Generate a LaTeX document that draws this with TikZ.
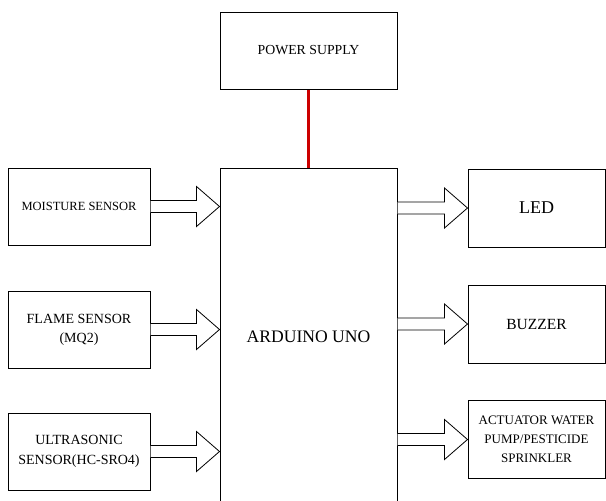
\documentclass[tikz,border=0pt]{standalone}
\usepackage{fontspec}
\setmainfont{Liberation Serif}
\usetikzlibrary{calc}

% hollow block arrow from #1 to tip #2
\newcommand{\fatarrow}[2]{%
  \draw[line width=0.8pt, fill=white] ($(#1)+(0,-6)$) -- ($(#2)+(-23,-6)$) -- ($(#2)+(-23,-20)$) -- (#2)
    -- ($(#2)+(-23,20)$) -- ($(#2)+(-23,6)$) -- ($(#1)+(0,6)$);}

\begin{document}
\begin{tikzpicture}[x=1pt, y=-1pt, block/.style={draw, line width=1pt, inner sep=0pt, align=center},
	inblock/.style={block, minimum width=142pt, minimum height=77pt},
	outblock/.style={block, minimum width=137pt, minimum height=78pt}]
		\clip (0,0) rectangle (606,501);
		\node[block, minimum width=177pt, minimum height=77pt, font=\fontsize{13.8}{17}\selectfont] at (308.5,50.5) (power){POWER SUPPLY};
		\node[block, minimum width=177pt, minimum height=338pt, font=\fontsize{17.6}{21}\selectfont] at (308.5,337) (ard){ARDUINO UNO};
		\node[inblock, font=\fontsize{12.5}{19}\selectfont] at (79,206.5) (moist){MOISTURE SENSOR};
		\node[inblock, font=\fontsize{14}{19}\selectfont] at (79,329.5) (flame){FLAME SENSOR\\(MQ2)};
		\node[inblock, font=\fontsize{14}{20}\selectfont] at (79,451.5) (ultra){ULTRASONIC\\SENSOR(HC-SRO4)};
		\node[outblock, font=\fontsize{18}{21}\selectfont] at (536.5,208) (led){LED};
		\node[outblock, font=\fontsize{15.5}{19}\selectfont] at (536.5,324) (buzz){BUZZER};
		\node[outblock, font=\fontsize{13}{19}\selectfont] at (536.5,439.5) (act){ACTUATOR WATER\\PUMP/PESTICIDE\\SPRINKLER};
		\draw[red!80!black, line width=3pt] (power.south) -- (ard.north);
		\coordinate (t1) at (moist.east -| ard.west);
		\coordinate (t2) at (flame.east -| ard.west);
		\coordinate (t3) at (ultra.east -| ard.west);
		\coordinate (s1) at (ard.east |- led.west);
		\coordinate (s2) at (ard.east |- buzz.west);
		\coordinate (s3) at (ard.east |- act.west);
		\fatarrow{moist.east}{t1}
		\fatarrow{flame.east}{t2}
		\fatarrow{ultra.east}{t3}
		\fatarrow{s1}{led.west}
		\fatarrow{s2}{buzz.west}
		\fatarrow{s3}{act.west}
		% \draw[help lines] (0,0) grid[step=50] (606,501);
	\end{tikzpicture}
\end{document}
